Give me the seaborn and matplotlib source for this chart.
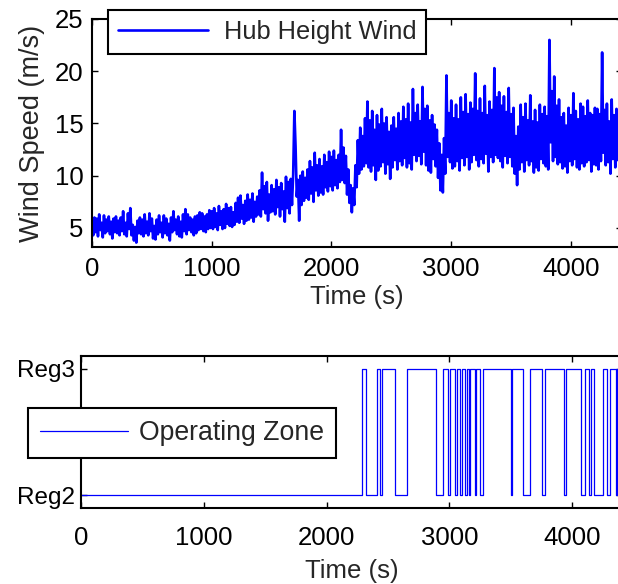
import numpy as np
import pandas as pd
import seaborn as sns
import matplotlib
matplotlib.use("Agg")
import matplotlib.pyplot as plt

# ---------------- data ----------------
# hub height wind speed (m/s), one value every 10 s
wind_dt = 10
wind_speed = [
    5.6, 4.3, 6.0, 4.6, 5.9, 4.2, 6.3, 4.8, 5.5, 4.1,
    6.2, 4.5, 5.8, 4.7, 6.1, 4.4, 5.6, 4.0, 5.9, 4.6,
    6.1, 4.5, 5.7, 4.3, 6.0, 4.7, 6.6, 4.4, 5.5, 4.2,
    6.4, 4.9, 6.9, 4.3, 5.3, 3.8, 5.1, 3.6, 5.7, 4.5,
    6.0, 4.4, 5.8, 4.2, 6.3, 4.5, 5.6, 4.3, 6.4, 4.7,
    5.9, 4.0, 5.2, 3.9, 5.8, 4.4, 6.2, 4.6, 5.5, 4.1,
    6.2, 4.5, 5.9, 4.3, 5.4, 3.8, 6.0, 4.6, 6.6, 4.8,
    5.8, 4.4, 6.1, 4.2, 5.6, 4.1, 6.3, 4.7, 6.8, 4.4,
    6.3, 4.8, 6.0, 4.6, 5.8, 4.3, 6.1, 4.5, 6.2, 4.8,
    6.5, 4.9, 6.4, 4.7, 6.1, 4.6, 6.3, 4.9, 6.7, 5.0,
    6.6, 4.9, 6.9, 5.1, 6.4, 4.8, 7.1, 5.3, 6.6, 4.9,
    6.8, 5.0, 7.3, 5.4, 6.9, 5.2, 7.0, 5.1, 6.5, 5.3,
    7.4, 5.6, 7.9, 5.5, 8.1, 5.9, 7.2, 5.4, 7.6, 5.7,
    8.2, 5.8, 7.7, 6.0, 8.3, 5.6, 7.5, 6.1, 8.0, 6.3,
    8.6, 6.1, 10.3, 6.8, 9.0, 6.4, 9.4, 5.7, 8.2, 6.5,
    9.1, 6.6, 8.7, 6.3, 9.6, 7.0, 8.9, 6.1, 9.3, 6.8,
    8.5, 5.6, 9.9, 6.9, 9.4, 6.4, 9.7, 7.2, 10.1, 16.2,
    12.8, 8.0, 9.6, 5.7, 10.0, 7.2, 10.4, 7.6, 9.8, 7.9,
    10.6, 7.7, 11.4, 8.3, 10.8, 7.5, 12.2, 8.6, 11.0, 8.1,
    11.6, 8.4, 10.9, 8.2, 12.0, 8.9, 11.3, 8.5, 12.3, 9.0,
    11.8, 8.6, 12.4, 9.1, 11.5, 8.8, 12.0, 9.4, 14.4, 9.6,
    12.7, 9.3, 11.9, 8.2, 10.6, 7.4, 9.1, 6.5, 8.8, 7.2,
    11.0, 8.9, 13.4, 10.2, 14.6, 10.6, 13.8, 10.9, 15.5, 11.2,
    17.1, 10.8, 15.3, 10.4, 16.2, 11.0, 14.4, 9.6, 15.8, 10.5,
    14.9, 10.9, 16.4, 11.3, 15.0, 10.2, 15.6, 11.1, 14.2, 9.7,
    14.8, 10.8, 15.6, 11.5, 14.5, 10.6, 16.0, 11.4, 15.2, 11.0,
    16.6, 11.7, 15.4, 10.8, 16.9, 11.2, 15.1, 10.6, 18.3, 12.0,
    16.0, 11.4, 16.8, 11.9, 15.2, 11.1, 18.5, 12.3, 16.4, 11.0,
    16.7, 10.5, 15.3, 10.3, 15.8, 11.6, 14.9, 10.9, 14.4, 9.8,
    13.1, 8.6, 12.0, 8.4, 13.6, 10.2, 19.6, 11.8, 16.0, 11.3,
    17.2, 10.7, 15.5, 10.9, 16.8, 11.4, 15.4, 10.5, 17.5, 11.7,
    16.1, 11.0, 17.8, 11.8, 15.9, 10.6, 17.0, 11.3, 16.4, 12.0,
    19.8, 11.5, 16.2, 10.9, 17.4, 11.6, 16.0, 11.2, 18.6, 12.1,
    15.8, 10.4, 17.1, 11.8, 16.3, 11.3, 20.3, 12.0, 17.5, 11.7,
    18.0, 11.4, 16.7, 10.8, 17.6, 11.9, 16.1, 11.2, 18.4, 11.8,
    15.9, 10.9, 16.5, 10.2, 13.8, 9.1, 14.7, 10.6, 16.8, 11.3,
    15.6, 10.4, 16.9, 11.5, 15.3, 11.0, 17.7, 11.4, 15.2, 10.3,
    16.3, 10.8, 15.1, 10.5, 16.8, 11.6, 15.9, 11.2, 16.6, 10.9,
    15.7, 10.6, 23.0, 13.2, 18.1, 11.4, 19.5, 11.8, 16.7, 11.1,
    17.3, 11.3, 15.6, 10.7, 16.0, 10.9, 14.8, 10.3, 16.5, 11.4,
    15.8, 11.0, 17.9, 11.6, 16.2, 10.8, 15.4, 10.6, 16.9, 11.2,
    16.6, 10.9, 15.7, 11.3, 17.2, 11.5, 16.0, 10.4, 15.8, 11.1,
    16.5, 11.0, 16.4, 10.6, 15.9, 11.4, 21.8, 12.2, 16.3, 11.0,
    16.9, 11.3, 15.2, 10.2, 17.3, 11.6, 15.8, 10.8, 16.4, 11.5,
]
wind_time = [i * wind_dt for i in range(len(wind_speed))]

# operating zone switching instants (s) and the zone entered (2 = Reg2, 3 = Reg3)
zone_time = [0, 2290, 2321, 2412, 2435, 2455, 2561, 2656, 2894, 2946, 2992,
             3004, 3049, 3065, 3089, 3106, 3130, 3146, 3163, 3171, 3211,
             3220, 3252, 3274, 3500, 3508, 3604, 3659, 3756, 3780, 3931,
             3951, 4069, 4103, 4141, 4152, 4179, 4254, 4282, 4313, 4358,
             4368, 4420]
zone_state = [2, 3, 2, 3, 2, 3, 2, 3, 2, 3, 2,
              3, 2, 3, 2, 3, 2, 3, 2, 3, 2,
              3, 2, 3, 2, 3, 2, 3, 2, 3, 2,
              3, 2, 3, 2, 3, 2, 3, 2, 3, 2,
              3, 3]
zone_ticks = [2, 3]
zone_ticklabels = ["Reg2", "Reg3"]
x_ticks = [0, 1000, 2000, 3000, 4000]
wind_ticks = [5, 10, 15, 20, 25]

# ---------------- style ----------------
sns.set_style("ticks")
plt.rcParams["font.family"] = ["Liberation Sans", "DejaVu Sans"]
FS = 18.5

W, H = 618, 584
fig = plt.figure(figsize=(W / 100, H / 100), dpi=100)

def px_axes(left, top, right, bottom):
    return fig.add_axes([left / W, 1 - bottom / H, (right - left) / W, (bottom - top) / H])

blue = (0, 0, 1)

# ---------------- top panel ----------------
ax1 = px_axes(92, 19, 622, 247)
df1 = pd.DataFrame({"Time (s)": wind_time, "Wind": wind_speed})
sns.lineplot(data=df1, x="Time (s)", y="Wind", ax=ax1, color=blue, lw=1.9,
             estimator=None, sort=False, label="Hub Height Wind")
ax1.set_xlim(0, 4426)
ax1.set_ylim(3.18, 25)
ax1.set_xticks(x_ticks)
ax1.set_yticks(wind_ticks)
ax1.set_ylabel("Wind Speed (m/s)", fontsize=19.5)
ax1.yaxis.set_label_coords((45 - 92) / 530, 0.5)
ax1.set_xlabel("Time (s)", fontsize=FS, labelpad=3)

# ---------------- bottom panel ----------------
ax2 = px_axes(81, 356, 622, 508)
df2 = pd.DataFrame({"Time (s)": zone_time, "Zone": zone_state})
sns.lineplot(data=df2, x="Time (s)", y="Zone", ax=ax2, color=blue, lw=0.9,
             estimator=None, sort=False, drawstyle="steps-post",
             label="Operating Zone")
ax2.set_xlim(0, 4407)
ax2.set_ylim(1.9, 3.1)
ax2.set_xticks(x_ticks)
ax2.set_yticks(zone_ticks)
ax2.set_yticklabels(zone_ticklabels)
ax2.set_ylabel("")
ax2.set_xlabel("Time (s)", fontsize=FS, labelpad=6.5)

for ax in (ax1, ax2):
    for s in ax.spines.values():
        s.set_visible(True)
        s.set_linewidth(1.5)
        s.set_color("black")
    ax.tick_params(direction="in", length=4, width=1, top=True, right=True,
                   labelsize=FS, colors="black", pad=6)
    ax.grid(False)
ax1.tick_params(axis="x", pad=7)
ax2.tick_params(axis="x", pad=13)
ax2.tick_params(axis="y", pad=4, labelsize=17.5)

# legends
leg1 = ax1.legend(loc="upper left", bbox_to_anchor=(108 / W, 1 - 10 / H),
                  bbox_transform=fig.transFigure, borderaxespad=0,
                  frameon=True, fancybox=False, edgecolor="black",
                  framealpha=1, fontsize=18.3, handlelength=3.55,
                  handletextpad=0.6, borderpad=0.4)
leg1.get_frame().set_linewidth(1.5)
leg2 = ax2.legend(loc="upper left", bbox_to_anchor=(28 / W, 1 - 408 / H),
                  bbox_transform=fig.transFigure, borderaxespad=0,
                  frameon=True, fancybox=False, edgecolor="black",
                  framealpha=1, fontsize=19.2, handlelength=3.3,
                  handletextpad=0.4, borderpad=0.45)
leg2.get_frame().set_linewidth(1.5)

fig.savefig("out.png", dpi=100)
